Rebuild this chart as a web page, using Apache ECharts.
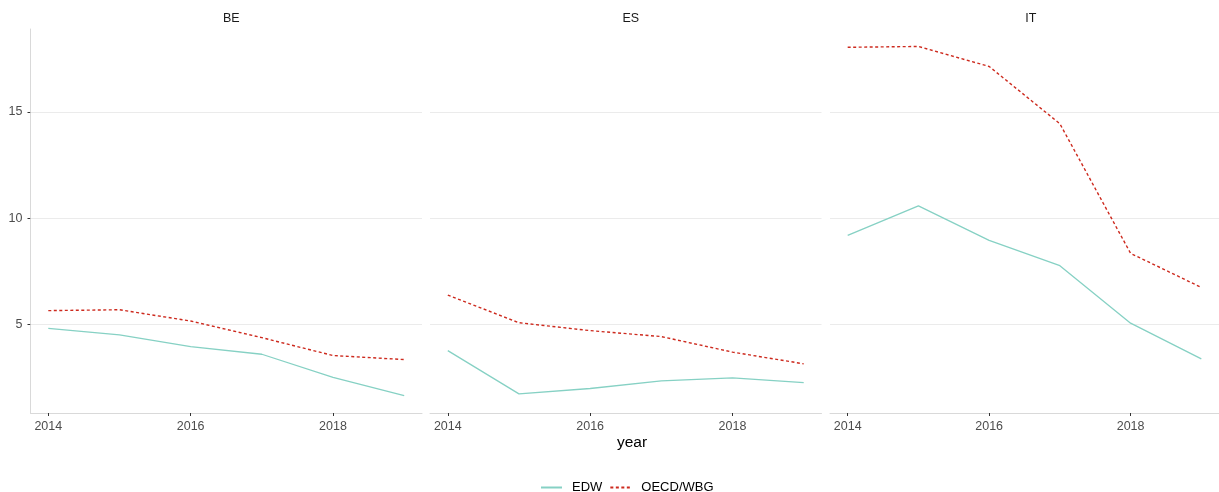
<!DOCTYPE html>
<html>
<head>
<meta charset="utf-8">
<script src="https://cdn.jsdelivr.net/npm/echarts@6/dist/echarts.min.js"></script>
<style>
  html, body { margin: 0; padding: 0; background: #ffffff; }
  #chart { width: 1219px; height: 492px; }
</style>
</head>
<body>
<div id="chart"></div>
<script>
// Facet labels and shared x values
const countries = ['BE', 'ES', 'IT'];
const years = [2014, 2015, 2016, 2017, 2018, 2019];

// EDW series per country
const edwBE = [4.83, 4.52, 3.97, 3.61, 2.52, 1.67];
const edwES = [3.78, 1.75, 2.00, 2.36, 2.50, 2.28];
const edwIT = [9.19, 10.58, 8.96, 7.77, 5.07, 3.39];

// OECD/WBG series per country
const oecdBE = [5.66, 5.70, 5.17, 4.39, 3.55, 3.36];
const oecdES = [6.39, 5.09, 4.72, 4.44, 3.71, 3.16];
const oecdIT = [18.03, 18.07, 17.13, 14.44, 8.35, 6.75];

// Tick labels
const xTicks = [2014, 2016, 2018];
const yTicks = [5, 10, 15];

const edwByCountry = [edwBE, edwES, edwIT];
const oecdByCountry = [oecdBE, oecdES, oecdIT];

const EDW_COLOR = '#86d1c4';
const OECD_COLOR = '#cd2a1e';
const FONT = 'Liberation Sans, Arial, sans-serif';

// Shared scale with a 5% pad on each side of the data range
const allVals = edwByCountry.concat(oecdByCountry).flat();
const vMin = Math.min.apply(null, allVals);
const vMax = Math.max.apply(null, allVals);
const pad = (vMax - vMin) * 0.05;
const yMin = vMin - pad;
const yMax = vMax + pad;
const xSpan = years[years.length - 1] - years[0];
const xMin = years[0] - xSpan * 0.05;
const xMax = years[years.length - 1] + xSpan * 0.05;

const panelLefts = [30.5, 430, 830];
const panelWidth = 391.5;

const grids = panelLefts.map(l => ({ left: l, top: 29, width: panelWidth, height: 384 }));

const xAxes = countries.map((c, i) => ({
  type: 'value', gridIndex: i, min: xMin, max: xMax,
  axisLine: { show: true, onZero: false, lineStyle: { color: '#d9d9d9', width: 1 } },
  axisTick: { show: true, customValues: xTicks, length: 3, lineStyle: { color: '#333333', width: 1 } },
  axisLabel: {
    show: true, customValues: xTicks, margin: 7, color: '#4d4d4d', fontSize: 12.5, fontFamily: FONT,
    formatter: v => String(v)
  },
  splitLine: { show: false }
}));

const yAxes = countries.map((c, i) => ({
  type: 'value', gridIndex: i, min: yMin, max: yMax,
  axisLine: { show: i === 0, lineStyle: { color: '#d9d9d9', width: 1 } },
  axisTick: { show: i === 0, customValues: yTicks, length: 3, lineStyle: { color: '#333333', width: 1 } },
  axisLabel: {
    show: i === 0, customValues: yTicks, margin: 8, color: '#4d4d4d', fontSize: 12.5, fontFamily: FONT,
    formatter: v => String(v)
  },
  splitLine: { show: false }
}));

const series = [];
countries.forEach((c, i) => {
  series.push({
    name: 'EDW', type: 'line', xAxisIndex: i, yAxisIndex: i,
    data: years.map((y, k) => [y, edwByCountry[i][k]]),
    symbol: 'none', z: 3,
    lineStyle: { color: EDW_COLOR, width: 1.3, type: 'solid' },
    itemStyle: { color: EDW_COLOR },
    markLine: {
      silent: true, symbol: 'none', z: 1, animation: false,
      label: { show: false },
      lineStyle: { color: '#ebebeb', width: 1, type: 'solid' },
      data: yTicks.map(v => ({ yAxis: v }))
    }
  });
  series.push({
    name: 'OECD/WBG', type: 'line', xAxisIndex: i, yAxisIndex: i,
    data: years.map((y, k) => [y, oecdByCountry[i][k]]),
    symbol: 'none', z: 3,
    lineStyle: { color: OECD_COLOR, width: 1.4, type: [3, 2.5] },
    itemStyle: { color: OECD_COLOR }
  });
});

const titles = countries.map((c, i) => ({
  text: c, left: panelLefts[i] + panelWidth / 2, top: 7, textAlign: 'center',
  textStyle: { fontSize: 12.5, fontWeight: 'normal', color: '#1a1a1a', fontFamily: FONT }
}));
titles.push({
  text: 'year', left: 627, top: 430, textAlign: 'center',
  textStyle: { fontSize: 15.5, fontWeight: 'normal', color: '#000000', fontFamily: FONT }
});

const chart = echarts.init(document.getElementById('chart'), null, { renderer: 'canvas' });
chart.setOption({
  animation: false,
  backgroundColor: '#ffffff',
  title: titles,
  grid: grids,
  xAxis: xAxes,
  yAxis: yAxes,
  legend: {
    data: ['EDW', 'OECD/WBG'],
    top: 476, left: 535,
    itemWidth: 21, itemHeight: 14, itemGap: 7,
    itemStyle: { opacity: 0 },
    textStyle: { fontSize: 13, color: '#000000', fontFamily: FONT, padding: [0, 0, 0, 5] }
  },
  series: series
});
</script>
</body>
</html>
